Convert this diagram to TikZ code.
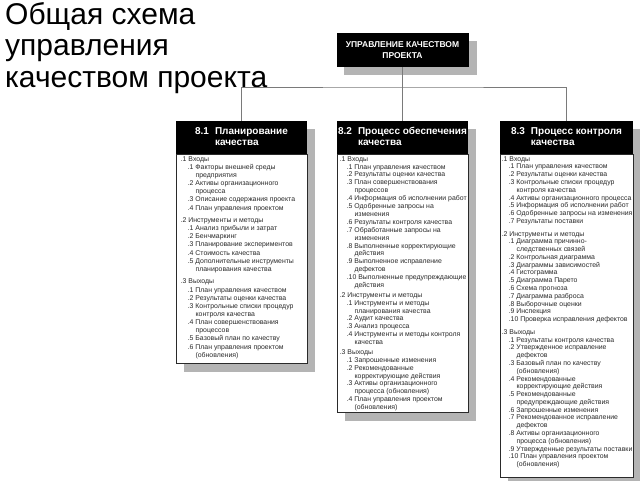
\documentclass[tikz,border=0pt]{standalone}
\usepackage{fontspec}
\setmainfont{Liberation Sans}
\usetikzlibrary{positioning,backgrounds}
\definecolor{colorshade}{HTML}{B4B4B4}
\definecolor{colorlink}{HTML}{7A7A7A}
\definecolor{colortext}{HTML}{2A2A2A}
\tikzset{
  title/.style={inner sep=0pt, align=left, font=\fontsize{30}{31.5}\selectfont},
  topbox/.style={fill=black, text=white, inner sep=0pt, align=center,
    minimum width=132pt, minimum height=34pt, font=\fontsize{8.5}{10.5}\selectfont\bfseries},
  headbox/.style={fill=black, text=white, inner sep=0pt,
    minimum width=131pt, minimum height=33pt, font=\fontsize{10}{11.5}\selectfont\bfseries},
  bodybox/.style={draw=colortext, fill=white, line width=0.8pt, inner sep=0pt, minimum width=131pt},
  bodytext/.style={anchor=north west, inner sep=0pt, align=left, text=colortext,
    font=\fontsize{6.9}{#1}\selectfont},
  link/.style={colorlink, line width=0.9pt},
  shade/.style={fill=colorshade}
}
\newcommand\hdr[3]{\begin{tabular}{@{}l@{\hspace{6pt}}l@{}}#1 & #2\\ & #3\end{tabular}}
\newcommand\itm[2]{\hspace*{7pt}#1 #2}
\newcommand\cnt[1]{\hspace*{14.8pt}#1}

\begin{document}
\begin{tikzpicture}[x=1pt, y=-1pt]
\useasboundingbox (0,0) rectangle (640,480);

\node[title, anchor=north west] (title) at (5,2)
{Общая схема\\управления\\качеством проекта};

\node[topbox] (qm) at (402.5,50)
{УПРАВЛЕНИЕ КАЧЕСТВОМ\\ПРОЕКТА};

% three process headers
\node[headbox] (plan) at (241.5,137.5) {\hdr{8.1}{Планирование}{качества}};
\node[headbox] (assure) at (402.5,137.5) {\hdr{8.2}{Процесс обеспечения}{качества}};
\node[headbox, minimum width=133pt] (control) at (566.5,137.5) {\hdr{8.3}{Процесс контроля}{качества}};

\node[bodybox, minimum height=209pt, below=0pt of plan] (planbody) {};
\node[bodybox, minimum height=258pt, below=0pt of assure] (assurebody) {};
\node[bodybox, minimum width=133pt, minimum height=323pt, below=0pt of control] (controlbody) {};

\node[bodytext=8.15pt] (plantext) at ([shift={(5,2)}]planbody.north west)
{.1 Входы\\
\itm{.1}{Факторы внешней среды}\\
\cnt{предприятия}\\
\itm{.2}{Активы организационного}\\
\cnt{процесса}\\
\itm{.3}{Описание содержания проекта}\\
\itm{.4}{План управления проектом}\\[4.3pt]
.2 Инструменты и методы\\
\itm{.1}{Анализ прибыли и затрат}\\
\itm{.2}{Бенчмаркинг}\\
\itm{.3}{Планирование экспериментов}\\
\itm{.4}{Стоимость качества}\\
\itm{.5}{Дополнительные инструменты}\\
\cnt{планирования качества}\\[4.3pt]
.3 Выходы\\
\itm{.1}{План управления качеством}\\
\itm{.2}{Результаты оценки качества}\\
\itm{.3}{Контрольные списки процедур}\\
\cnt{контроля качества}\\
\itm{.4}{План совершенствования}\\
\cnt{процессов}\\
\itm{.5}{Базовый план по качеству}\\
\itm{.6}{План управления проектом}\\
\cnt{(обновления)}};

\node[bodytext=7.9pt] (assuretext) at ([shift={(3,2)}]assurebody.north west)
{.1 Входы\\
\itm{.1}{План управления качеством}\\
\itm{.2}{Результаты оценки качества}\\
\itm{.3}{План совершенствования}\\
\cnt{процессов}\\
\itm{.4}{Информация об исполнении работ}\\
\itm{.5}{Одобренные запросы на}\\
\cnt{изменения}\\
\itm{.6}{Результаты контроля качества}\\
\itm{.7}{Обработанные запросы на}\\
\cnt{изменения}\\
\itm{.8}{Выполненные корректирующие}\\
\cnt{действия}\\
\itm{.9}{Выполненное исправление}\\
\cnt{дефектов}\\
\itm{.10}{Выполненные предупреждающие}\\
\cnt{действия}\\[1.8pt]
.2 Инструменты и методы\\
\itm{.1}{Инструменты и методы}\\
\cnt{планирования качества}\\
\itm{.2}{Аудит качества}\\
\itm{.3}{Анализ процесса}\\
\itm{.4}{Инструменты и методы контроля}\\
\cnt{качества}\\[1.8pt]
.3 Выходы\\
\itm{.1}{Запрошенные изменения}\\
\itm{.2}{Рекомендованные}\\
\cnt{корректирующие действия}\\
\itm{.3}{Активы организационного}\\
\cnt{процесса (обновления)}\\
\itm{.4}{План управления проектом}\\
\cnt{(обновления)}};

\node[bodytext=7.78pt] (controltext) at ([shift={(2,2)}]controlbody.north west)
{.1 Входы\\
\itm{.1}{План управления качеством}\\
\itm{.2}{Результаты оценки качества}\\
\itm{.3}{Контрольные списки процедур}\\
\cnt{контроля качества}\\
\itm{.4}{Активы организационного процесса}\\
\itm{.5}{Информация об исполнении работ}\\
\itm{.6}{Одобренные запросы на изменения}\\
\itm{.7}{Результаты поставки}\\[4.9pt]
.2 Инструменты и методы\\
\itm{.1}{Диаграмма причинно-}\\
\cnt{следственных связей}\\
\itm{.2}{Контрольная диаграмма}\\
\itm{.3}{Диаграммы зависимостей}\\
\itm{.4}{Гистограмма}\\
\itm{.5}{Диаграмма Парето}\\
\itm{.6}{Схема прогноза}\\
\itm{.7}{Диаграмма разброса}\\
\itm{.8}{Выборочные оценки}\\
\itm{.9}{Инспекция}\\
\itm{.10}{Проверка исправления дефектов}\\[4.9pt]
.3 Выходы\\
\itm{.1}{Результаты контроля качества}\\
\itm{.2}{Утвержденное исправление}\\
\cnt{дефектов}\\
\itm{.3}{Базовый план по качеству}\\
\cnt{(обновления)}\\
\itm{.4}{Рекомендованные}\\
\cnt{корректирующие действия}\\
\itm{.5}{Рекомендованные}\\
\cnt{предупреждающие действия}\\
\itm{.6}{Запрошенные изменения}\\
\itm{.7}{Рекомендованное исправление}\\
\cnt{дефектов}\\
\itm{.8}{Активы организационного}\\
\cnt{процесса (обновления)}\\
\itm{.9}{Утвержденные результаты поставки}\\
\itm{.10}{План управления проектом}\\
\cnt{(обновления)}};

% tree lines
\coordinate (bus) at (402.5,87);
\draw[link] (qm) -- (bus);
\draw[link] (plan.north) |- (bus) -| (control.north);
\draw[link] (bus) -- (assure.north);

\begin{scope}[on background layer]
\fill[shade] ([shift={(8,8)}]qm.north west) rectangle ([shift={(8,8)}]qm.south east);
\fill[shade] ([shift={(8,8)}]plan.north west) rectangle ([shift={(8,8)}]planbody.south east);
\fill[shade] ([shift={(8,8)}]assure.north west) rectangle ([shift={(8,8)}]assurebody.south east);
\fill[shade] ([shift={(8,8)}]control.north west) rectangle ([shift={(8,8)}]controlbody.south east);
\end{scope}
\end{tikzpicture}
\end{document}
